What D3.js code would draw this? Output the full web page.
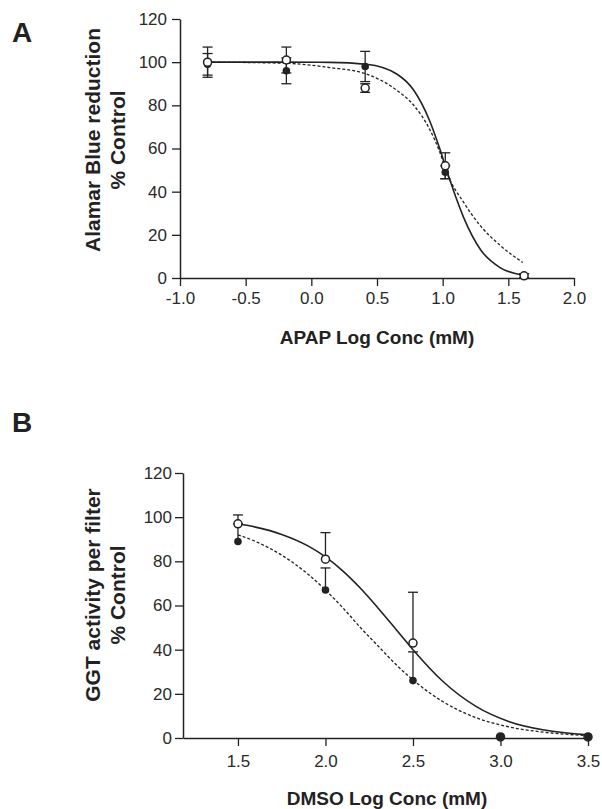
<!DOCTYPE html>
<html>
<head>
<meta charset="utf-8">
<script src="https://cdn.jsdelivr.net/npm/d3@7"></script>
<style>
  html, body { margin: 0; padding: 0; background: #fff; }
  svg { display: block; font-family: "Liberation Sans", Arial, sans-serif; }
</style>
</head>
<body>
<svg id="chart" width="602" height="809"></svg>
<script>
// ---- panel A : APAP ----
const aX        = [-0.79, -0.19, 0.41, 1.02, 1.62];
const aOpen     = [100, 101, 88, 52, 1];
const aOpenErr  = [7, 6, 2, 6, 1];
const aFilled   = [99, 96, 98, 49, 1];
const aFilledErr= [5, 6, 7, 3, 1];
// fitted curves
const aSolidX = [-0.79, -0.2, 0.14, 0.42, 0.65, 0.78, 0.90, 0.98, 1.03, 1.10, 1.16, 1.29, 1.44, 1.62];
const aSolidY = [100, 100, 99.9, 99, 94.5, 87, 73, 59.5, 50, 37.5, 28, 13, 4.7, 1.2];
const aDashX  = [-0.79, -0.2, 0.14, 0.42, 0.65, 0.78, 0.90, 0.98, 1.03, 1.16, 1.29, 1.44, 1.61];
const aDashY  = [100, 99.5, 97.5, 94.5, 87, 80, 69, 58, 49, 35, 24, 15, 7.2];
const aYTicks = [0, 20, 40, 60, 80, 100, 120];
const aXTicks = [-1.0, -0.5, 0.0, 0.5, 1.0, 1.5, 2.0];
const aXTickLabels = ["-1.0", "-0.5", "0.0", "0.5", "1.0", "1.5", "2.0"];

// ---- panel B : DMSO ----
const bX        = [1.5, 2.0, 2.5, 3.0, 3.5];
const bOpen     = [97, 81, 43, 0.5, 0.5];
const bOpenErr  = [4, 12, 23, 0, 0];
const bFilled   = [89, 67, 26, 0.5, 0.5];
const bFilledErr= [8, 10, 13, 0, 0];
const bSolidX = [1.5, 1.6, 1.75, 1.9, 2.0, 2.1, 2.2, 2.3, 2.4, 2.5, 2.67, 2.86, 3.05, 3.25, 3.5];
const bSolidY = [97, 95.5, 92.2, 87, 82, 75.6, 67.8, 58.9, 49.5, 40, 25.7, 14.3, 7.4, 3.6, 1.4];
const bDashX  = [1.5, 1.6, 1.75, 1.9, 2.0, 2.1, 2.2, 2.31, 2.4, 2.5, 2.67, 2.86, 3.05, 3.25, 3.5];
const bDashY  = [92, 89, 82.8, 74.2, 67, 58.9, 50, 40.9, 33.5, 26.3, 16.5, 9.2, 5, 2.6, 1.1];
const bYTicks = [0, 20, 40, 60, 80, 100, 120];
const bXTicks = [1.5, 2.0, 2.5, 3.0, 3.5];
const bXTickLabels = ["1.5", "2.0", "2.5", "3.0", "3.5"];

const ink = "#222";
const svg = d3.select("#chart");

function drawPanel(p) {
  const x = d3.scaleLinear().domain(p.xDomain).range([p.left, p.right]);
  const y = d3.scaleLinear().domain([0, 120]).range([p.bottom, p.top]);
  const g = svg.append("g");

  // axes
  const yAxis = d3.axisLeft(y).tickValues(p.yTicks).tickSize(8).tickSizeOuter(0).tickPadding(p.yPad);
  const xAxis = d3.axisBottom(x).tickValues(p.xTicks).tickSize(8).tickSizeOuter(0).tickPadding(p.xPad)
      .tickFormat((d, i) => p.xLabels[i]);
  const ya = g.append("g").attr("transform", `translate(${p.left},0)`).call(yAxis);
  const xa = g.append("g").attr("transform", `translate(0,${p.bottom})`).call(xAxis);
  [ya, xa].forEach(a => {
    a.select(".domain").attr("stroke", ink).attr("stroke-width", 1.5);
    a.selectAll(".tick line").attr("stroke", ink).attr("stroke-width", 1.3);
    a.selectAll(".tick text").attr("fill", "#2a2a2a").style("font-size", "17px")
      .style("font-family", "'Liberation Sans', Arial, sans-serif");
  });

  // error bars
  const cap = 5;
  function errBars(vals, errs, twoSided) {
    const eg = g.append("g").attr("stroke", ink).attr("stroke-width", 1.3).attr("fill", "none");
    p.xs.forEach((xv, i) => {
      if (!errs[i]) return;
      const cx = x(xv), y0 = twoSided ? y(vals[i] - errs[i]) : y(vals[i]), y1 = y(vals[i] + errs[i]);
      eg.append("line").attr("x1", cx).attr("x2", cx).attr("y1", y0).attr("y2", y1);
      eg.append("line").attr("x1", cx - cap).attr("x2", cx + cap).attr("y1", y1).attr("y2", y1);
      if (twoSided) eg.append("line").attr("x1", cx - cap).attr("x2", cx + cap).attr("y1", y0).attr("y2", y0);
    });
  }
  errBars(p.filled, p.filledErr, p.twoSided);
  errBars(p.open, p.openErr, p.twoSided);

  // curves
  const line = d3.line().x(d => x(d[0])).y(d => y(d[1])).curve(d3.curveMonotoneX);
  g.append("path").datum(d3.zip(p.dashX, p.dashY)).attr("d", line)
    .attr("fill", "none").attr("stroke", ink).attr("stroke-width", 1.3).attr("stroke-dasharray", "3,2");
  g.append("path").datum(d3.zip(p.solidX, p.solidY)).attr("d", line)
    .attr("fill", "none").attr("stroke", ink).attr("stroke-width", 1.6);

  // markers
  function filledDots() {
    g.append("g").selectAll("circle").data(d3.zip(p.xs, p.filled)).join("circle")
      .attr("cx", d => x(d[0])).attr("cy", d => y(d[1])).attr("r", 3.8).attr("fill", ink);
  }
  function openDots() {
    g.append("g").selectAll("circle").data(d3.zip(p.xs, p.open)).join("circle")
      .attr("cx", d => x(d[0])).attr("cy", d => y(d[1])).attr("r", 4)
      .attr("fill", "#fff").attr("stroke", ink).attr("stroke-width", 1.5);
  }
  if (p.filledOnTop) { openDots(); filledDots(); } else { filledDots(); openDots(); }

  // titles
  g.append("text").attr("x", 12).attr("y", p.letterY).text(p.letter)
    .attr("fill", ink).style("font-size", "28px").style("font-weight", "bold");
  const yt = g.append("text").attr("transform", `translate(0,${p.yTitleY}) rotate(-90)`)
    .attr("text-anchor", "middle").attr("fill", ink).style("font-size", "21px").style("font-weight", "bold");
  yt.append("tspan").attr("x", 0).attr("y", 100).text(p.yTitle[0]);
  yt.append("tspan").attr("x", 0).attr("y", 125).text(p.yTitle[1]);
  g.append("text").attr("x", p.xTitleX).attr("y", p.xTitleY).attr("text-anchor", "middle")
    .attr("fill", ink).style("font-size", "19px").style("font-weight", "bold").text(p.xTitle);
}

drawPanel({
  xDomain: [-1, 2], left: 180, right: 574, top: 19, bottom: 278,
  yTicks: aYTicks, xTicks: aXTicks, xLabels: aXTickLabels, yPad: 5, xPad: 6,
  xs: aX, open: aOpen, openErr: aOpenErr, filled: aFilled, filledErr: aFilledErr, twoSided: true,
  filledOnTop: false,
  solidX: aSolidX, solidY: aSolidY, dashX: aDashX, dashY: aDashY,
  letter: "A", letterY: 42, yTitle: ["Alamar Blue reduction", "% Control"], yTitleY: 140,
  xTitle: "APAP Log Conc (mM)", xTitleX: 377, xTitleY: 344
});

drawPanel({
  xDomain: [1.186, 3.5], left: 183, right: 588, top: 473, bottom: 738,
  yTicks: bYTicks, xTicks: bXTicks, xLabels: bXTickLabels, yPad: 3, xPad: 9,
  xs: bX, open: bOpen, openErr: bOpenErr, filled: bFilled, filledErr: bFilledErr, twoSided: false,
  filledOnTop: true,
  solidX: bSolidX, solidY: bSolidY, dashX: bDashX, dashY: bDashY,
  letter: "B", letterY: 432, yTitle: ["GGT activity per filter", "% Control"], yTitleY: 595,
  xTitle: "DMSO Log Conc (mM)", xTitleX: 387, xTitleY: 805
});
</script>
</body>
</html>
